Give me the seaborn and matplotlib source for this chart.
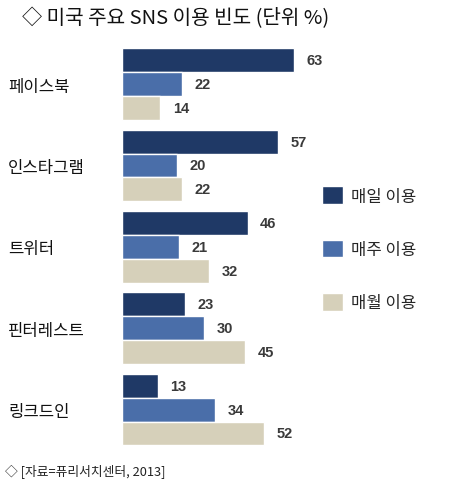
import pandas as pd
import matplotlib.pyplot as plt
import seaborn as sns

# ==========================
# DATA
# ==========================
platforms = ["페이스북", "인스타그램", "트위터", "핀터레스트", "링크드인"]
usage_types = ["매일 이용", "매주 이용", "매월 이용"]
daily = [63, 57, 46, 23, 13]
weekly = [22, 20, 21, 30, 34]
monthly = [14, 22, 32, 45, 52]

colors = ["#1f3966", "#4a6ea9", "#d6d0ba"]

df = pd.DataFrame({
    "platform": platforms * 3,
    "type": [usage_types[0]] * 5 + [usage_types[1]] * 5 + [usage_types[2]] * 5,
    "value": daily + weekly + monthly,
})

# ==========================
# PLOT
# ==========================
sns.set_theme(style="white")
plt.rcParams["font.family"] = ["Noto Sans CJK KR", "DejaVu Sans"]

fig = plt.figure(figsize=(4.77, 4.89), dpi=100)
ax = fig.add_axes([0.2558, 0.0605, 0.7442, 0.8654])

sns.barplot(
    data=df,
    x="value",
    y="platform",
    hue="type",
    orient="h",
    palette=colors,
    width=0.88,
    gap=0,
    saturation=1,
    ax=ax,
)

for container in ax.containers:
    ax.bar_label(
        container,
        padding=9,
        fontsize=10.5,
        fontweight="bold",
        color="#3a3a3a",
        family=["Liberation Sans", "DejaVu Sans"],
    )

ax.set_xlim(0, 130)
ax.set_ylim(4.6, -0.6)
ax.set_xlabel("")
ax.set_ylabel("")
ax.set_xticks([])
sns.despine(ax=ax, left=True, bottom=True)

ax.tick_params(axis="y", length=0, pad=82, labelsize=12)
for lbl in ax.get_yticklabels():
    lbl.set_ha("left")
    lbl.set_color("#111111")

sns.move_legend(
    ax,
    "upper left",
    bbox_to_anchor=(0.643, 0.648),
    bbox_transform=fig.transFigure,
    title=None,
    frameon=False,
    fontsize=12,
    handlelength=1.25,
    handleheight=1.25,
    handletextpad=0.5,
    labelspacing=2.1,
)

fig.text(
    0.046, 0.963,
    "◇ 미국 주요 SNS 이용 빈도 (단위 %)",
    fontsize=14.5,
    color="#111111",
    va="center",
    ha="left",
)

fig.text(
    0.010, 0.034,
    "◇ [자료=퓨리서치센터, 2013]",
    fontsize=9.2,
    color="#222222",
    va="center",
    ha="left",
)

fig.savefig("out.png", dpi=100)
plt.close()
